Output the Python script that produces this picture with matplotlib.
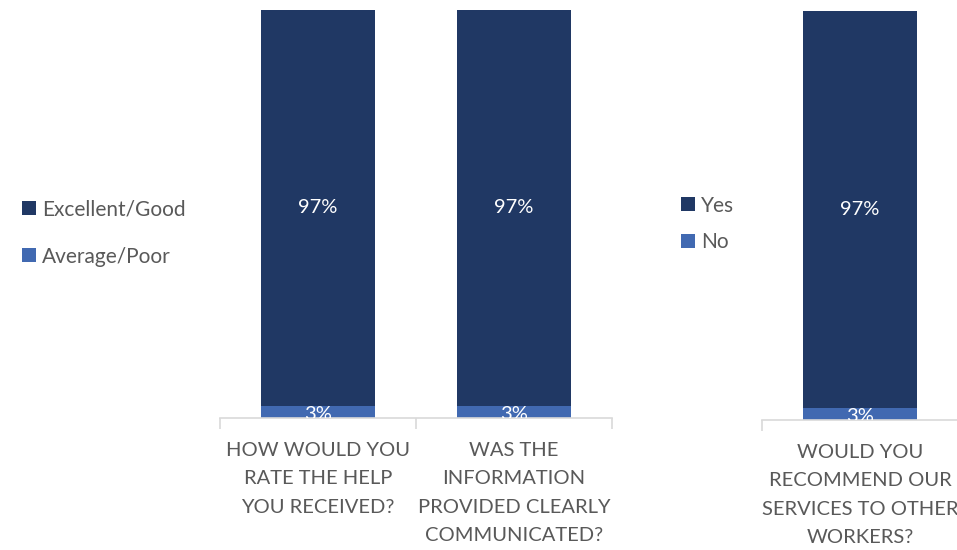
import matplotlib
matplotlib.use("Agg")
import matplotlib.pyplot as plt

# data for the two survey panels
left_questions = ["HOW WOULD YOU\nRATE THE HELP\nYOU RECEIVED?",
                  "WAS THE\nINFORMATION\nPROVIDED CLEARLY\nCOMMUNICATED?"]
left_good = [97, 97]
left_poor = [3, 3]
left_series = ["Excellent/Good", "Average/Poor"]

right_questions = ["WOULD YOU\nRECOMMEND OUR\nSERVICES TO OTHER\nWORKERS?"]
right_yes = [97]
right_no = [3]
right_series = ["Yes", "No"]

dark = "#203864"
light = "#4169b1"
grey_txt = "#595959"
axis_col = "#d9d9d9"

plt.rcParams["font.family"] = ["Lato", "DejaVu Sans"]
W, H = 957, 550
fig = plt.figure(figsize=(W / 100, H / 100), dpi=100)


def panel(rect, questions, top, bottom, names, leg_xy, leg_space):
    ax = fig.add_axes(rect)
    xs = list(range(len(questions)))
    b1 = ax.bar(xs, bottom, width=0.58, color=light)
    b2 = ax.bar(xs, top, bottom=bottom, width=0.58, color=dark)
    for x, lo, hi in zip(xs, bottom, top):
        ax.text(x, lo + hi / 2, f"{hi}%", ha="center", va="center",
                color="white", fontsize=14.5)
        ax.text(x, lo / 2 - 0.6, f"{lo}%", ha="center", va="center",
                color="white", fontsize=14.5, clip_on=True)
    ax.set_xlim(-0.5, len(questions) - 0.5)
    ax.set_ylim(0, 100)
    ax.set_yticks([])
    for s in ["top", "right", "left"]:
        ax.spines[s].set_visible(False)
    ax.spines["bottom"].set_color(axis_col)
    ax.spines["bottom"].set_linewidth(1.2)
    ax.set_xticks(xs)
    ax.set_xticklabels(questions, fontsize=14.5, color=grey_txt, linespacing=1.82)
    ax.tick_params(axis="x", which="major", length=0, pad=17)
    ax.set_xticks([x - 0.5 for x in range(len(questions) + 1)], minor=True)
    ax.tick_params(axis="x", which="minor", length=8, color=axis_col, width=1.2)
    ax.legend([b2, b1], names, loc="center left", bbox_to_anchor=leg_xy,
              bbox_transform=fig.transFigure, frameon=False, fontsize=15,
              labelcolor=grey_txt, handlelength=0.65, handleheight=0.65,
              handletextpad=0.3, labelspacing=leg_space, borderpad=0)
    return ax


panel([220 / W, 1 - 418 / H, 392 / W, 408 / H], left_questions,
      left_good, left_poor, left_series, (12 / W, 1 - 233 / H), 1.3)
panel([762 / W, 1 - 420 / H, 196 / W, 409 / H], right_questions,
      right_yes, right_no, right_series, (671 / W, 1 - 224 / H), 0.8)

fig.savefig("out.png", dpi=100)
